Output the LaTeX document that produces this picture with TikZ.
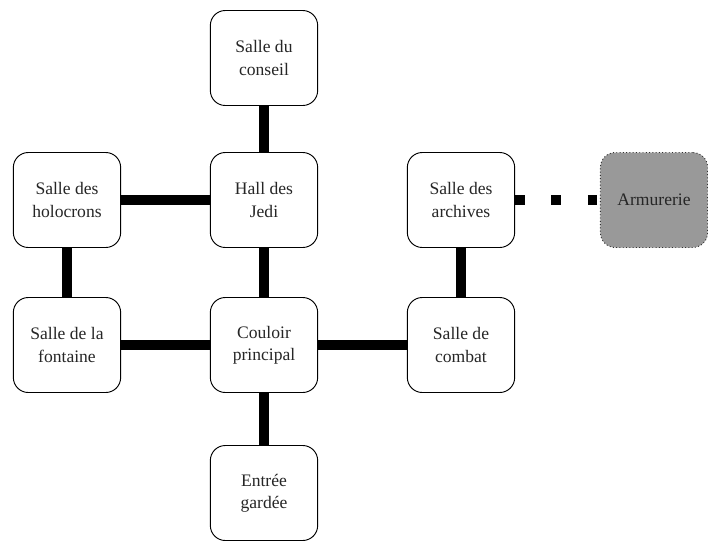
\documentclass[tikz,border=0pt]{standalone}
\usepackage{fontspec}
\setmainfont{Liberation Serif}
\begin{document}
\begin{tikzpicture}[x=0.03cm,y=-0.03cm,
  salle/.style={draw,line width=0.8pt,rounded corners=0.45cm,minimum width=3.22cm,minimum height=2.85cm,align=center,font=\fontsize{15}{19}\selectfont,text=black!85,fill=white},
  cachee/.style={salle,fill=black!40,dotted,draw=black!80},
  couloir/.style={line width=8.5pt},
  passage/.style={line width=8.5pt,dash pattern=on 8pt off 23pt}]
\useasboundingbox (0,0) rectangle (708,546);
\node[salle] (conseil) at (264,58) {Salle du\\conseil};
\node[salle] (hall) at (264,200) {Hall des\\Jedi};
\node[salle] (holocrons) at (67,200) {Salle des\\holocrons};
\node[salle] (archives) at (461,200) {Salle des\\archives};
\node[cachee] (armurerie) at (654,200) {Armurerie};
\node[salle] (fontaine) at (67,345) {Salle de la\\fontaine};
\node[salle] (couloir) at (264,345) {Couloir\\principal};
\node[salle] (combat) at (461,345) {Salle de\\combat};
\node[salle] (entree) at (264,493) {Entrée\\gardée};
% connexions
\draw[couloir] (conseil) -- (hall);
\draw[couloir] (holocrons) -- (hall);
\draw[couloir] (holocrons) -- (fontaine);
\draw[couloir] (hall) -- (couloir);
\draw[couloir] (fontaine) -- (couloir);
\draw[couloir] (couloir) -- (combat);
\draw[couloir] (combat) -- (archives);
\draw[couloir] (couloir) -- (entree);
\draw[passage] (archives) -- (armurerie);
\end{tikzpicture}
\end{document}
